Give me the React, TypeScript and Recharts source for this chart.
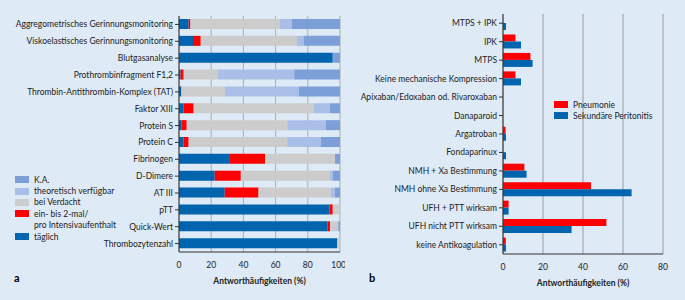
import React from 'react';
import { BarChart, Bar, XAxis, YAxis, CartesianGrid } from 'recharts';

// panel a: Gerinnungsparameter
const paramLabels = [
  'Aggregometrisches Gerinnungsmonitoring',
  'Viskoelastisches Gerinnungsmonitoring',
  'Blutgasanalyse',
  'Prothrombinfragment F1,2',
  'Thrombin-Antithrombin-Komplex (TAT)',
  'Faktor XIII',
  'Protein S',
  'Protein C',
  'Fibrinogen',
  'D-Dimere',
  'AT III',
  'pTT',
  'Quick-Wert',
  'Thrombozytenzahl',
];
const taeglich = [6, 8.7, 95.5, 1, 1.5, 2.9, 1.5, 2.9, 31.1, 22.2, 28.4, 93.6, 92.3, 98.3];
const einBisZwei = [1.1, 4.8, 0, 1.9, 0, 6.2, 3.3, 3.1, 22.4, 16.2, 21, 1.9, 1.5, 0];
const beiVerdacht = [55.4, 59.8, 0, 21, 27, 74.5, 62.4, 61.2, 43.4, 55.4, 45, 4.5, 4.6, 1.7];
const theoretisch = [7.5, 4.1, 0, 47.7, 46, 10.2, 23.9, 21, 0, 1.7, 2.5, 0, 0.6, 0];
const keineAngabe = [30, 22.6, 4.5, 28.4, 25.5, 6.2, 8.9, 11.8, 3.1, 4.5, 3.1, 0, 1, 0];
const ticksA = [0, 20, 40, 60, 80, 100];

// panel b: Thromboseprophylaxe
const prophylaxeLabels = [
  'MTPS + IPK',
  'IPK',
  'MTPS',
  'Keine mechanische Kompression',
  'Apixaban/Edoxaban od. Rivaroxaban',
  'Danaparoid',
  'Argatroban',
  'Fondaparinux',
  'NMH + Xa Bestimmung',
  'NMH ohne Xa Bestimmung',
  'UFH + PTT wirksam',
  'UFH nicht PTT wirksam',
  'keine Antikoagulation',
];
const pneumonie = [0, 6.2, 13.7, 6.2, 0, 0, 1.3, 0, 10.7, 44, 2.8, 51.7, 1.4];
const peritonitis = [1.5, 9, 14.8, 9, 0, 0, 1.5, 1.5, 11.8, 64.3, 2.8, 34.3, 1.5];
const ticksB = [0, 20, 40, 60, 80];

const dataA = paramLabels.map((name, i) => ({
  name,
  taeglich: taeglich[i],
  einBisZwei: einBisZwei[i],
  beiVerdacht: beiVerdacht[i],
  theoretisch: theoretisch[i],
  keineAngabe: keineAngabe[i],
}));

const dataB = prophylaxeLabels.map((name, i) => ({
  name,
  pneumonie: pneumonie[i],
  peritonitis: peritonitis[i],
}));

const FONT = 'Lato, "Open Sans", sans-serif';
const FS = 8.5;
const TEXT = '#222';
const BG = '#deeaf6';
const C = {
  dark: '#0064ae',
  red: '#ff0000',
  gray: '#cccccc',
  light: '#aabfe8',
  ka: '#7b9fd6',
  grid: '#a9adb3',
};

const tick = { fill: TEXT, fontSize: FS, fontFamily: FONT, dy: 2 };

// single-line category labels (Recharts would wrap them otherwise)
const CatTick = (props: any) => {
  const { x, y, payload } = props;
  return (
    <text x={x} y={y} textAnchor="end" dominantBaseline="central" fill={TEXT} fontSize={FS} fontFamily={FONT}>
      {payload.value}
    </text>
  );
};

const legendA = [
  { label: 'K.A.', color: C.ka },
  { label: 'theoretisch verfügbar', color: C.light },
  { label: 'bei Verdacht', color: C.gray },
  { label: 'ein- bis 2-mal/', color: C.red },
  { label: 'pro Intensivaufenthalt', color: null },
  { label: 'täglich', color: C.dark },
];

const legendB = [
  { label: 'Pneumonie', color: C.red },
  { label: 'Sekundäre Peritonitis', color: C.dark },
];

const SwatchLegend = ({ items, rowH, left, top }: { items: { label: string; color: string | null }[]; rowH: number; left: number; top: number }) => (
  <div style={{ position: 'absolute', left, top, fontFamily: FONT, fontSize: FS, color: TEXT, whiteSpace: 'nowrap' }}>
    {items.map((it) => (
      <div key={it.label} style={{ display: 'flex', alignItems: 'center', height: rowH }}>
        <span style={{ display: 'inline-block', width: 14, height: 7, background: it.color ?? 'transparent', marginRight: 5 }} />
        {it.label}
      </div>
    ))}
  </div>
);

const axisTitle = { value: 'Antworthäufigkeiten (%)', position: 'insideBottom' as const, offset: 2, fill: TEXT, fontSize: FS, fontWeight: 700, fontFamily: FONT };

const App: React.FC = () => {
  return (
    <div style={{ position: 'absolute', left: 0, top: 0, width: 685, height: 300, background: BG, overflow: 'hidden' }}>
      <div style={{ position: 'absolute', left: 0, top: 0 }}>
        <BarChart
          width={345}
          height={300}
          data={dataA}
          layout="vertical"
          margin={{ top: 16, right: 5, bottom: 14, left: 0 }}
          barSize={10}
        >
          <CartesianGrid horizontal={false} stroke={C.grid} />
          <XAxis
            type="number"
            domain={[0, 100]}
            ticks={ticksA}
            tick={tick}
            axisLine={{ stroke: '#333' }}
            tickLine={false}
            height={34}
            label={axisTitle}
          />
          <YAxis
            type="category"
            dataKey="name"
            width={179}
            tick={<CatTick />}
            axisLine={{ stroke: '#333' }}
            tickLine={{ stroke: '#333' }}
            tickSize={4}
            interval={0}
          />
          <Bar dataKey="taeglich" stackId="a" fill={C.dark} isAnimationActive={false} />
          <Bar dataKey="einBisZwei" stackId="a" fill={C.red} isAnimationActive={false} />
          <Bar dataKey="beiVerdacht" stackId="a" fill={C.gray} isAnimationActive={false} />
          <Bar dataKey="theoretisch" stackId="a" fill={C.light} isAnimationActive={false} />
          <Bar dataKey="keineAngabe" stackId="a" fill={C.ka} isAnimationActive={false} />
        </BarChart>
        <SwatchLegend items={legendA} rowH={11.4} left={15} top={174} />
        <div style={{ position: 'absolute', left: 14, top: 271, fontFamily: FONT, fontWeight: 700, fontSize: 11, color: '#000' }}>a</div>
      </div>

      <div style={{ position: 'absolute', left: 345, top: 0 }}>
        <BarChart
          width={340}
          height={300}
          data={dataB}
          layout="vertical"
          margin={{ top: 14, right: 22, bottom: 12, left: 0 }}
          barSize={7}
          barGap={0}
        >
          <CartesianGrid horizontal={false} stroke={C.grid} strokeWidth={1.3} />
          <XAxis
            type="number"
            domain={[0, 80]}
            ticks={ticksB}
            tick={tick}
            axisLine={{ stroke: '#333' }}
            tickLine={false}
            height={34}
            label={axisTitle}
          />
          <YAxis
            type="category"
            dataKey="name"
            width={158}
            tick={<CatTick />}
            axisLine={{ stroke: '#333' }}
            tickLine={{ stroke: '#333' }}
            tickSize={4}
            interval={0}
          />
          <Bar dataKey="pneumonie" fill={C.red} isAnimationActive={false} />
          <Bar dataKey="peritonitis" fill={C.dark} isAnimationActive={false} />
        </BarChart>
        <SwatchLegend items={legendB} rowH={11.2} left={209} top={99} />
        <div style={{ position: 'absolute', left: 24, top: 271, fontFamily: FONT, fontWeight: 700, fontSize: 11, color: '#000' }}>b</div>
      </div>
    </div>
  );
};

export default App;
